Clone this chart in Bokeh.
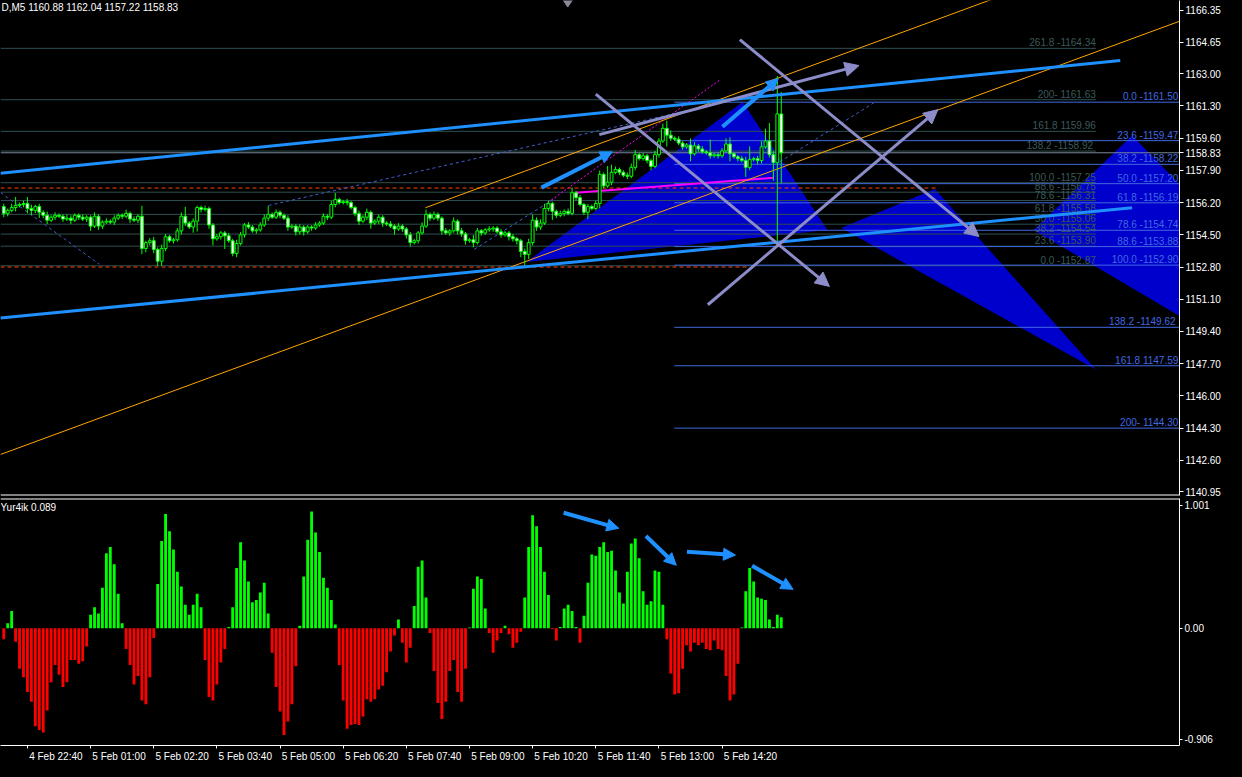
from bokeh.plotting import figure
from bokeh.layouts import column
from bokeh.models import (ColumnDataSource, Range1d, LinearAxis, FixedTicker,
                          NumeralTickFormatter, Span, Arrow, NormalHead, Label)
from bokeh.core.properties import value
from bokeh.embed import file_html
from bokeh.resources import INLINE

FONT = "Liberation Sans"

# ---------------- data ----------------
first_open = 1155.99
close = [
    1155.63, 1155.79, 1155.94, 1156.05, 1156.10, 1156.15, 1155.89, 1155.79, 1155.99, 1155.69,
    1155.53, 1155.27, 1155.43, 1155.53, 1155.48, 1155.33, 1155.38, 1155.27, 1155.53, 1155.43,
    1155.33, 1155.43, 1154.96, 1155.48, 1154.96, 1155.17, 1155.22, 1155.17, 1155.38, 1155.53,
    1155.48, 1155.63, 1155.33, 1155.27, 1155.48, 1153.78, 1154.09, 1154.19, 1153.73, 1153.11,
    1153.78, 1154.40, 1154.19, 1154.24, 1154.71, 1155.48, 1155.12, 1154.91, 1155.22, 1155.94,
    1155.84, 1155.89, 1155.02, 1154.29, 1154.40, 1154.60, 1154.45, 1154.19, 1153.52, 1154.04,
    1154.50, 1155.02, 1154.91, 1154.71, 1154.76, 1155.02, 1155.38, 1155.58, 1155.43, 1155.69,
    1155.53, 1155.38, 1154.91, 1154.96, 1154.66, 1154.91, 1154.66, 1154.91, 1154.86, 1155.02,
    1155.12, 1155.48, 1155.43, 1156.10, 1156.36, 1156.20, 1156.25, 1156.20, 1155.94, 1155.63,
    1155.22, 1155.43, 1155.69, 1155.12, 1155.22, 1155.43, 1155.12, 1155.07, 1154.96, 1154.81,
    1154.96, 1154.81, 1154.50, 1154.09, 1154.19, 1154.60, 1154.96, 1155.58, 1155.38, 1155.58,
    1155.38, 1154.71, 1154.60, 1154.71, 1155.22, 1154.71, 1154.55, 1154.19, 1154.24, 1154.09,
    1154.71, 1154.60, 1154.76, 1154.81, 1154.86, 1154.66, 1154.50, 1154.60, 1154.40, 1154.29,
    1154.19, 1153.62, 1153.47, 1154.09, 1155.27, 1154.91, 1155.12, 1155.89, 1156.15, 1155.74,
    1155.53, 1155.63, 1155.74, 1155.63, 1156.72, 1156.46, 1156.10, 1155.69, 1155.99, 1155.89,
    1156.15, 1157.69, 1157.08, 1157.28, 1157.80, 1157.95, 1157.80, 1157.64, 1157.59, 1158.06,
    1158.73, 1158.52, 1158.67, 1158.42, 1158.11, 1158.73, 1159.45, 1160.12, 1159.76, 1159.60,
    1159.55, 1159.34, 1159.14, 1159.24, 1158.78, 1159.19, 1159.03, 1158.88, 1158.83, 1158.67,
    1158.73, 1158.67, 1158.93, 1159.29, 1158.78, 1158.62, 1158.52, 1158.42, 1158.06, 1158.47,
    1158.52, 1158.42, 1159.14, 1159.45, 1158.73, 1158.31, 1160.88, 1158.83]

wick_up = [
    0.15, 0.10, 0.20, 0.45, 0.10, 0.15, 0.35, 0.20, 0.10, 0.15,
    0.10, 0.20, 0.10, 0.15, 0.10, 0.10, 0.20, 0.15, 0.10, 0.10,
    0.15, 0.10, 0.10, 0.20, 0.10, 0.10, 0.15, 0.10, 0.15, 0.10,
    0.10, 0.20, 0.10, 0.15, 0.10, 0.55, 0.10, 0.15, 0.20, 0.10,
    0.20, 0.15, 0.10, 0.10, 0.15, 0.20, 0.50, 0.10, 0.15, 0.10,
    0.10, 0.15, 0.10, 0.10, 0.15, 0.10, 0.10, 0.15, 0.10, 0.20,
    0.15, 0.10, 0.15, 0.10, 0.10, 0.15, 0.20, 0.45, 0.10, 0.15,
    0.10, 0.10, 0.15, 0.10, 0.10, 0.15, 0.10, 0.10, 0.10, 0.15,
    0.10, 0.15, 0.10, 0.20, 0.35, 0.10, 0.10, 0.15, 0.10, 0.10,
    0.15, 0.10, 0.20, 0.10, 0.10, 0.15, 0.10, 0.10, 0.15, 0.10,
    0.15, 0.10, 0.10, 0.15, 0.10, 0.10, 0.20, 0.25, 0.10, 0.15,
    0.10, 0.10, 0.15, 0.10, 0.20, 0.10, 0.15, 0.10, 0.10, 0.25,
    0.15, 0.10, 0.10, 0.15, 0.10, 0.10, 0.15, 0.10, 0.10, 0.15,
    0.10, 0.10, 0.15, 0.20, 0.30, 0.15, 0.20, 0.25, 0.15, 0.10,
    0.10, 0.15, 0.10, 0.15, 0.27, 0.10, 0.15, 0.10, 0.15, 0.10,
    0.15, 0.20, 0.10, 0.85, 0.40, 0.15, 0.10, 0.10, 0.15, 0.20,
    0.25, 0.10, 0.15, 0.10, 0.10, 0.20, 0.15, 0.25, 0.40, 0.25,
    0.10, 0.15, 0.10, 0.10, 0.35, 0.20, 0.10, 0.15, 0.10, 0.70,
    0.10, 0.10, 0.15, 0.30, 0.35, 0.10, 0.10, 0.15, 0.20, 0.70,
    0.10, 0.15, 0.30, 0.65, 0.95, 0.20, 2.00, 1.16]

wick_dn = [
    0.20, 0.15, 0.10, 0.20, 0.10, 0.15, 0.25, 0.25, 0.15, 0.30,
    0.15, 0.20, 0.10, 0.15, 0.10, 0.15, 0.10, 0.20, 0.10, 0.15,
    0.10, 0.15, 0.25, 0.10, 0.20, 0.15, 0.10, 0.10, 0.15, 0.10,
    0.15, 0.10, 0.20, 0.10, 0.15, 0.30, 0.20, 0.15, 0.20, 0.25,
    0.25, 0.15, 0.10, 0.15, 0.10, 0.20, 0.15, 0.10, 0.30, 0.55,
    0.15, 0.10, 0.20, 0.35, 0.10, 0.15, 0.70, 0.10, 0.15, 0.20,
    0.10, 0.15, 0.10, 0.10, 0.15, 0.10, 0.10, 0.15, 0.10, 0.10,
    0.15, 0.10, 0.20, 0.10, 0.20, 0.15, 0.20, 0.10, 0.15, 0.10,
    0.10, 0.10, 0.15, 0.10, 0.15, 0.10, 0.10, 0.15, 0.10, 0.15,
    0.20, 0.10, 0.15, 0.30, 0.10, 0.15, 0.20, 0.10, 0.10, 0.30,
    0.10, 0.15, 0.20, 0.20, 0.10, 0.15, 0.10, 0.10, 0.15, 0.10,
    0.15, 0.20, 0.10, 0.15, 0.10, 0.20, 0.15, 0.20, 0.10, 0.25,
    0.10, 0.15, 0.10, 0.10, 0.15, 0.10, 0.15, 0.10, 0.20, 0.15,
    0.20, 0.30, 0.60, 0.25, 0.15, 0.20, 0.15, 0.10, 0.15, 0.45,
    0.15, 0.10, 0.15, 0.10, 0.10, 0.15, 0.10, 0.15, 0.35, 0.10,
    0.10, 0.25, 0.15, 0.10, 0.15, 0.10, 0.15, 0.10, 0.15, 0.10,
    0.15, 0.10, 0.10, 0.15, 0.20, 0.10, 0.15, 0.10, 0.60, 0.15,
    0.10, 0.10, 0.15, 0.10, 0.40, 0.10, 0.15, 0.10, 0.10, 0.15,
    0.10, 0.15, 0.10, 0.10, 0.40, 0.10, 0.15, 0.10, 0.50, 0.15,
    0.10, 0.20, 0.15, 0.10, 0.15, 0.95, 4.17, 1.61]

hist = [
    -0.09, 0.04, 0.14, -0.11, -0.33, -0.40, -0.52, -0.60, -0.80, -0.83,
    -0.85, -0.67, -0.44, -0.30, -0.38, -0.48, -0.44, -0.26, -0.26, -0.29,
    -0.27, -0.15, 0.11, 0.17, 0.12, 0.33, 0.61, 0.66, 0.52, 0.28,
    0.04, -0.17, -0.30, -0.46, -0.39, -0.59, -0.62, -0.40, -0.08, 0.36,
    0.71, 0.93, 0.79, 0.64, 0.46, 0.34, 0.19, 0.11, 0.19, 0.28,
    0.17, -0.26, -0.56, -0.59, -0.46, -0.28, -0.17, 0.01, 0.17, 0.49,
    0.70, 0.55, 0.38, 0.21, 0.23, 0.29, 0.37, 0.12, -0.20, -0.48,
    -0.68, -0.87, -0.76, -0.62, -0.31, 0.02, 0.42, 0.72, 0.95, 0.78,
    0.62, 0.41, 0.33, 0.23, 0.03, -0.30, -0.59, -0.82, -0.79, -0.78,
    -0.79, -0.72, -0.58, -0.60, -0.58, -0.50, -0.47, -0.36, -0.19, -0.06,
    0.07, -0.12, -0.28, -0.16, 0.18, 0.50, 0.55, 0.25, -0.04, -0.35,
    -0.61, -0.74, -0.60, -0.35, -0.26, -0.52, -0.60, -0.33, 0.005, 0.32,
    0.42, 0.40, 0.16, -0.04, -0.20, -0.10, -0.04, 0.02, -0.05, -0.16,
    -0.12, -0.03, 0.25, 0.66, 0.92, 0.83, 0.66, 0.46, 0.27, -0.01,
    -0.10, 0.01, 0.16, 0.19, 0.14, 0.01, -0.12, 0.10, 0.37, 0.60,
    0.59, 0.66, 0.70, 0.62, 0.63, 0.47, 0.29, 0.20, 0.46, 0.69,
    0.73, 0.57, 0.30, 0.19, 0.22, 0.47, 0.46, 0.19, -0.09, -0.37,
    -0.54, -0.53, -0.33, -0.14, -0.19, -0.12, -0.14, -0.12, -0.17, -0.18,
    -0.10, -0.17, -0.18, -0.39, -0.59, -0.54, -0.29, 0.005, 0.30, 0.49,
    0.38, 0.25, 0.24, 0.23, 0.07, 0.01, 0.11, 0.089]

tick_bars = [6, 22, 38, 54, 70, 86, 102, 118, 134, 150, 166, 182]
tick_labels = ["4 Feb 22:40", "5 Feb 01:00", "5 Feb 02:20", "5 Feb 03:40", "5 Feb 05:00",
               "5 Feb 06:20", "5 Feb 07:40", "5 Feb 09:00", "5 Feb 10:20", "5 Feb 11:40",
               "5 Feb 13:00", "5 Feb 14:20"]
price_ticks = [1166.35, 1164.65, 1163.00, 1161.30, 1159.60, 1157.90, 1156.20, 1154.50,
               1152.80, 1151.10, 1149.40, 1147.70, 1146.00, 1144.30, 1142.60, 1140.95]
ind_ticks = [1.001, 0.0, -0.906]
ind_tick_labels = ["1.001", "0.00", "-0.906"]

header = "D,M5  1160.88 1162.04 1157.22 1158.83"
ind_name = "Yur4ik 0.089"
last_price = 1158.83

gray_levels = [1164.34, 1161.63, 1159.96, 1158.92, 1157.25, 1156.75, 1156.31, 1155.58,
               1155.06, 1154.54, 1153.90, 1152.87]
gray_labels = ["261.8 -1164.34", "200- 1161.63", "161.8 1159.96", "138.2  -1158.92",
               "100.0 -1157.25", "88.6 -1156.75", "78.6 -1156.31", "61.8 -1155.58",
               "50.0 -1155.06", "38.2 -1154.54", "23.6 -1153.90", "0.0 -1152.87"]
gray_span = (-0.825, 276.7)

blue_levels = [1161.50, 1159.47, 1158.22, 1157.20, 1156.19, 1154.74, 1153.88, 1152.90,
               1149.62, 1147.59, 1144.30]
blue_labels = ["0.0 -1161.50", "23.6 -1159.47", "38.2 -1158.22", "50.0 -1157.20",
               "61.8 -1156.19", "78.6 -1154.74", "88.6 -1153.88", "100.0 -1152.90",
               "138.2  -1149.62", "161.8 1147.59", "200- 1144.30"]
blue_span = (169.9, 297.9)

red_dash_levels = [1156.97, 1152.80]
red_dash_x0 = [-0.825, -0.825]
red_dash_x1 = [236.7, 188.4]

# trend objects: x0, y0, x1, y1 (bar index, price)
channel_lines = [(-0.825, 1157.75, 282.9, 1163.70), (-0.825, 1150.11, 285.9, 1155.93)]
orange_lines = [(-0.825, 1142.91, 297.9, 1165.77), (106.85, 1155.93, 252.9, 1167.12)]
magenta_dotted = [(137.9, 1156.22, 181.7, 1162.71)]
magenta_solid = [(144.9, 1156.72, 195.0, 1157.51)]
blue_dotted = [(-0.8, 1156.73, 24.2, 1152.95), (67.1, 1156.05, 174.2, 1161.10),
               (119.2, 1153.73, 139.9, 1156.46), (196.7, 1158.36, 220.4, 1161.46)]
gray_arrows = [(150.0, 1161.92, 209.2, 1151.78), (186.5, 1164.80, 247.1, 1154.41),
               (178.4, 1150.81, 236.7, 1161.11), (150.9, 1159.79, 216.7, 1163.43)]
blue_arrows = [(136.25, 1156.99, 154.2, 1158.88), (182.1, 1160.20, 196.25, 1162.74)]
ind_arrows = [(141.85, 0.94, 155.85, 0.813), (162.7, 0.751, 170.4, 0.512),
              (173.1, 0.622, 185.4, 0.595), (189.6, 0.508, 200.0, 0.316)]

tri_x = [[132.4, 187.2, 208.7], [212.2, 235.9, 276.7], [260.9, 285.9, 373.9]]
tri_y = [[1153.06, 1161.51, 1154.76], [1154.86, 1156.92, 1147.40], [1154.76, 1159.74, 1140.90]]

top_marker_x = [142.9]

# ---------------- layout constants ----------------
X_LO, X_HI = -0.825, 297.9
Y1_LO, Y1_HI = 1140.745, 1166.865
Y2_LO, Y2_HI = -0.956, 1.056
FW = 1179
H1 = 495
H2 = 247
RB = 47

LIME = "#00FF00"
RED = "#FF0000"
GRAYFIB = "#2F4F4F"
GRAYTXT = "#3A5A5A"
BLUEFIB = "#4169E1"
DODGER = "#1E90FF"
LAV = "#8C8CC8"
TRI = "#0000CD"

xr = Range1d(X_LO, X_HI)

def base_fig(h, ylo, yhi, top=0, bottom=0):
    p = figure(frame_width=FW, frame_height=h, x_range=xr, y_range=Range1d(ylo, yhi),
               x_axis_location=None, y_axis_location=None, toolbar_location=None,
               output_backend="svg", background_fill_color="black",
               border_fill_color="black", min_border_left=0, min_border_right=RB,
               min_border_top=top, min_border_bottom=bottom, title=None)
    p.outline_line_color = None
    p.grid.visible = False
    return p

# ---------------- main price panel ----------------
p1 = base_fig(H1, Y1_LO, Y1_HI, top=0, bottom=3)

p1.patches(xs=tri_x, ys=tri_y, fill_color=TRI, line_color=None)

n = len(close)
xs = list(range(n))
op = [first_open] + close[:-1]

p1.segment(x0=[gray_span[0]] * len(gray_levels), x1=[gray_span[1]] * len(gray_levels),
           y0=gray_levels, y1=gray_levels, line_color=GRAYFIB, line_width=1)
p1.segment(x0=[blue_span[0]] * len(blue_levels), x1=[blue_span[1]] * len(blue_levels),
           y0=blue_levels, y1=blue_levels, line_color=BLUEFIB, line_width=1)
p1.segment(x0=red_dash_x0, x1=red_dash_x1, y0=red_dash_levels, y1=red_dash_levels,
           line_color="#FF4500", line_width=1, line_dash="4 3")
p1.segment(x0=[X_LO], x1=[X_HI], y0=[last_price], y1=[last_price],
           line_color="#778899", line_width=1)

p1.text(x=[gray_span[1]] * len(gray_levels), y=gray_levels, text=gray_labels,
        text_align="right", text_baseline="bottom", text_color=GRAYTXT,
        text_font=value(FONT), text_font_size="10px")
p1.text(x=[blue_span[1] - 0.3] * len(blue_levels), y=blue_levels, text=blue_labels,
        text_align="right", text_baseline="bottom", text_color=BLUEFIB,
        text_font=value(FONT), text_font_size="10px")

def seg(p, items, **kw):
    p.segment(x0=[a[0] for a in items], y0=[a[1] for a in items],
              x1=[a[2] for a in items], y1=[a[3] for a in items], **kw)

seg(p1, blue_dotted, line_color="#4060D0", line_width=1, line_dash="3 3")
seg(p1, magenta_dotted, line_color="#FF00FF", line_width=1, line_dash="2 2")
seg(p1, magenta_solid, line_color="#FF00FF", line_width=2)
seg(p1, orange_lines, line_color="#FFA500", line_width=1)

top = [max(o, c) for o, c in zip(op, close)]
bot = [min(o, c) for o, c in zip(op, close)]
hi = [t + w for t, w in zip(top, wick_up)]
lo = [b - w for b, w in zip(bot, wick_dn)]
fill = ["black" if c >= o else "white" for o, c in zip(op, close)]
csrc = ColumnDataSource(dict(x=xs, top=top, bot=bot, hi=hi, lo=lo, fill=fill))
p1.segment(x0="x", x1="x", y0="lo", y1="hi", line_color=LIME, line_width=1, source=csrc)
p1.vbar(x="x", width=0.72, top="top", bottom="bot", fill_color="fill",
        line_color=LIME, line_width=1, source=csrc)

seg(p1, channel_lines, line_color=DODGER, line_width=3)

p1.scatter(x=top_marker_x, y=[Y1_HI], marker="diamond", size=13, color="#8A8A9A")

for a in gray_arrows:
    p1.add_layout(Arrow(x_start=a[0], y_start=a[1], x_end=a[2], y_end=a[3],
                        line_color=LAV, line_width=3,
                        end=NormalHead(size=14, fill_color=LAV, line_color=LAV)))
for a in blue_arrows:
    p1.add_layout(Arrow(x_start=a[0], y_start=a[1], x_end=a[2], y_end=a[3],
                        line_color=DODGER, line_width=4,
                        end=NormalHead(size=12, fill_color=DODGER, line_color=DODGER)))

p1.text(x=[X_LO], y=[Y1_HI], text=[header], text_align="left", text_baseline="top",
        x_offset=1, y_offset=1, text_color="white", text_font=value(FONT),
        text_font_size="10px")

p1.add_layout(Span(location=Y1_LO, dimension="width", line_color="white", line_width=2))

ax1 = LinearAxis(ticker=FixedTicker(ticks=price_ticks + [last_price]),
                 formatter=NumeralTickFormatter(format="0.00"))
ax1.axis_line_color = "white"
ax1.major_tick_line_color = "white"
ax1.major_tick_out = 4
ax1.major_tick_in = 0
ax1.minor_tick_line_color = None
ax1.major_label_text_color = "white"
ax1.major_label_text_font = FONT
ax1.major_label_text_font_size = "10px"
ax1.major_label_standoff = 2
p1.add_layout(ax1, "right")

price_box = Label(x=FW + 2, y=last_price, x_units="screen", y_units="data",
                  text=f"{last_price:.2f}", text_align="left", text_baseline="middle",
                  text_color="black", text_font=FONT, text_font_size="10px",
                  background_fill_color="white", padding=1, level="overlay")
p1.add_layout(price_box)

# ---------------- indicator panel ----------------
p2 = base_fig(H2, Y2_LO, Y2_HI, top=0, bottom=14)
hcol = [LIME if v >= 0 else RED for v in hist]
p2.vbar(x=list(range(len(hist))), width=0.72, top=hist, bottom=0, fill_color=hcol,
        line_color=None)

for a in ind_arrows:
    p2.add_layout(Arrow(x_start=a[0], y_start=a[1], x_end=a[2], y_end=a[3],
                        line_color=DODGER, line_width=4,
                        end=NormalHead(size=12, fill_color=DODGER, line_color=DODGER)))

p2.text(x=[X_LO], y=[Y2_HI], text=[ind_name], text_align="left", text_baseline="top",
        x_offset=0, y_offset=3, text_color="white", text_font=value(FONT),
        text_font_size="10px")
p2.add_layout(Span(location=Y2_HI, dimension="width", line_color="white", line_width=2))

ax2 = LinearAxis(ticker=FixedTicker(ticks=ind_ticks))
ax2.major_label_overrides = {t: s for t, s in zip(ind_ticks, ind_tick_labels)}
ax2.axis_line_color = "white"
ax2.major_tick_line_color = "white"
ax2.major_tick_out = 3
ax2.major_tick_in = 0
ax2.minor_tick_line_color = None
ax2.major_label_text_color = "white"
ax2.major_label_text_font = FONT
ax2.major_label_text_font_size = "10px"
ax2.major_label_standoff = 2
p2.add_layout(ax2, "right")

LBL_SHIFT = 7.2
centers = [b + LBL_SHIFT for b in tick_bars]
xax = LinearAxis(ticker=FixedTicker(ticks=centers, minor_ticks=tick_bars))
xax.major_label_overrides = {c: s for c, s in zip(centers, tick_labels)}
xax.axis_line_color = "white"
xax.major_tick_line_color = None
xax.major_tick_out = 0
xax.major_tick_in = 0
xax.minor_tick_line_color = "white"
xax.minor_tick_out = 3
xax.minor_tick_in = 0
xax.major_label_text_color = "white"
xax.major_label_text_font = FONT
xax.major_label_text_font_size = "10px"
xax.major_label_standoff = 2
p2.add_layout(xax, "below")

layout = column(p1, p2, spacing=0, styles={"background-color": "black"})
html = file_html(layout, INLINE, title="chart")
html = html.replace("<head>", "<head><style>html,body{background:#000000;}</style>", 1)
open("out.html", "w").write(html)
